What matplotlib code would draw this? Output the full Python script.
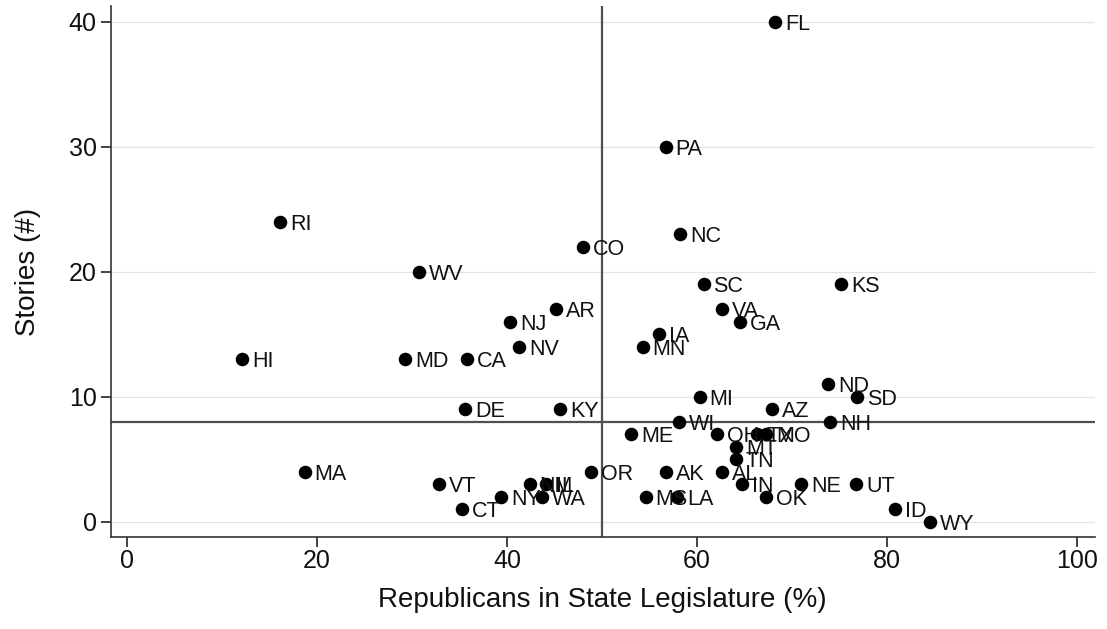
import matplotlib
matplotlib.use("Agg")
import matplotlib.pyplot as plt

plt.rcParams['font.family'] = ['Liberation Sans', 'DejaVu Sans']

states = ["FL", "PA", "NC", "CO", "SC", "KS", "AR", "VA", "GA", "IA",
          "RI", "WV", "HI", "MD", "CA", "NJ", "NV", "MN", "DE", "KY",
          "MI", "AZ", "WI", "ME", "OH", "TX", "MO", "MT", "TN", "AK",
          "AL", "IN", "NE", "MS", "LA", "OK", "VT", "CT", "NY", "NM",
          "IL", "WA", "OR", "ND", "SD", "NH", "UT", "ID", "WY", "MA"]
republican_pct = [68.2, 56.7, 58.2, 48.0, 60.7, 75.2, 45.2, 62.6, 64.5, 56.0,
                  16.1, 30.7, 12.1, 29.3, 35.8, 40.3, 41.3, 54.3, 35.6, 45.6,
                  60.3, 67.9, 58.1, 53.1, 62.1, 66.3, 67.3, 64.1, 64.1, 56.7,
                  62.6, 64.8, 71.0, 54.6, 57.9, 67.3, 32.8, 35.3, 39.4, 42.4,
                  44.1, 43.7, 48.9, 73.8, 76.9, 74.0, 76.8, 80.9, 84.5, 18.7]
stories = [40, 30, 23, 22, 19, 19, 17, 17, 16, 15,
           24, 20, 13, 13, 13, 16, 14, 14, 9, 9,
           10, 9, 8, 7, 7, 7, 7, 6, 5, 4,
           4, 3, 3, 2, 2, 2, 3, 1, 2, 3,
           3, 2, 4, 11, 10, 8, 3, 1, 0, 4]

x_ticks = [0, 20, 40, 60, 80, 100]
y_ticks = [0, 10, 20, 30, 40]
x_ref = 50
y_ref = 8

fig = plt.figure(figsize=(11.07, 6.29), dpi=100)
ax = fig.add_axes([0.1, 0.1463, 0.889, 0.8442])

ax.set_xlim(-1.72, 101.9)
ax.set_ylim(-1.2, 41.28)

# horizontal grid at major y ticks
for yv in y_ticks:
    ax.axhline(yv, color="#e3e3e3", lw=0.9, zorder=0)

# reference lines
ax.axvline(x_ref, color="#505050", lw=1.6, zorder=1)
ax.axhline(y_ref, color="#505050", lw=1.6, zorder=1)

ax.scatter(republican_pct, stories, s=95, color="black", zorder=3,
           linewidths=0)

for name, xv, yv in zip(states, republican_pct, stories):
    ax.annotate(name, (xv, yv), xytext=(7.2, -1.5), textcoords="offset points",
                ha="left", va="center", fontsize=15.5, color="#111111",
                zorder=4)

ax.set_xticks(x_ticks)
ax.set_yticks(y_ticks)
ax.tick_params(axis="both", labelsize=18, length=7, width=1.2,
               color="#222222", labelcolor="#111111")
ax.tick_params(axis="y", pad=3)
ax.tick_params(axis="x", pad=2)

for side in ("top", "right"):
    ax.spines[side].set_visible(False)
for side in ("left", "bottom"):
    ax.spines[side].set_color("#333333")
    ax.spines[side].set_linewidth(1.2)

ax.set_xlabel("Republicans in State Legislature (%)", fontsize=20,
              labelpad=10, color="#111111")
ax.set_ylabel("Stories (#)", fontsize=20, labelpad=20, color="#111111")

fig.savefig("out.png", dpi=100)
